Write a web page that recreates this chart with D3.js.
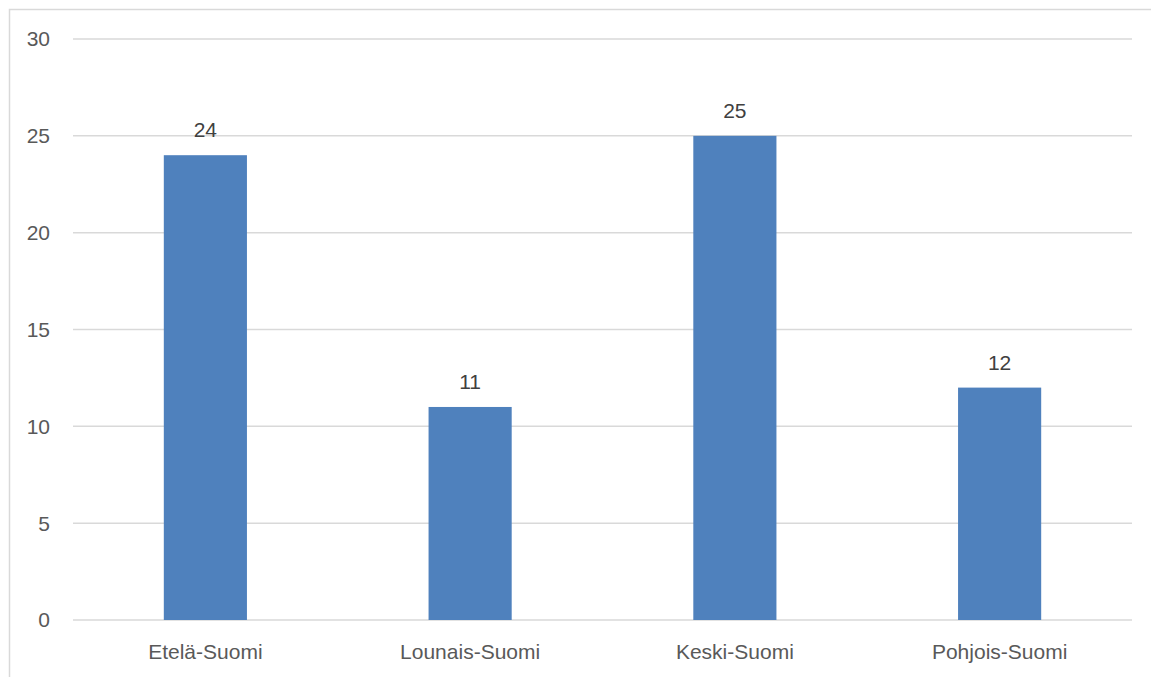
<!DOCTYPE html>
<html>
<head>
<meta charset="utf-8">
<script src="https://cdn.jsdelivr.net/npm/d3@7"></script>
<style>
  body { margin: 0; background: #fff; }
  svg { display: block; }
  text { font-family: "Liberation Sans", Arial, sans-serif; }
</style>
</head>
<body>
<svg id="chart"></svg>
<script>
// Chart data
let regions = ['Etelä-Suomi', 'Lounais-Suomi', 'Keski-Suomi', 'Pohjois-Suomi'];
let counts = [24, 11, 25, 12];
let yTicks = [0, 5, 10, 15, 20, 25, 30];

let width = 1151;
let height = 677;

// plot area, roughly where the gridlines sit
// (don't call these top/left, those are taken on window)
let plotLeft = 73, plotRight = 1132, plotTop = 39, plotBottom = 620;

let svg = d3.select('#chart')
    .attr('width', width)
    .attr('height', height);

// chart border (right and bottom run off the picture)
svg.append('rect')
    .attr('x', 9.5)
    .attr('y', 9.5)
    .attr('width', width + 10)
    .attr('height', height + 10)
    .attr('fill', 'none')
    .attr('stroke', '#d9d9d9')
    .attr('stroke-width', 1.5);

let x = d3.scaleBand()
    .domain(regions)
    .range([plotLeft, plotRight])
    .paddingInner(0.686)
    .paddingOuter(0.343);

let y = d3.scaleLinear()
    .domain([0, 30])
    .range([plotBottom, plotTop]);

// gridlines
svg.append('g')
    .selectAll('line')
    .data(yTicks)
    .enter().append('line')
    .attr('x1', plotLeft)
    .attr('x2', plotRight)
    .attr('y1', d => y(d))
    .attr('y2', d => y(d))
    .attr('stroke', '#d9d9d9')
    .attr('stroke-width', 1.5);

// y tick labels
svg.append('g')
    .selectAll('text')
    .data(yTicks)
    .enter().append('text')
    .attr('x', 50)
    .attr('y', d => y(d))
    .attr('dy', '0.35em')
    .attr('text-anchor', 'end')
    .attr('fill', '#595959')
    .style('font-size', '21px')
    .text(d => d);

// bars
let data = regions.map((r, i) => ({ region: r, value: counts[i] }));

svg.append('g')
    .selectAll('rect')
    .data(data)
    .enter().append('rect')
    .attr('x', d => x(d.region))
    .attr('y', d => y(d.value))
    .attr('width', x.bandwidth())
    .attr('height', d => y(0) - y(d.value))
    .attr('fill', '#4f81bd');

// value labels
svg.append('g')
    .selectAll('text')
    .data(data)
    .enter().append('text')
    .attr('x', d => x(d.region) + x.bandwidth() / 2)
    .attr('y', d => y(d.value) - 18)
    .attr('text-anchor', 'middle')
    .attr('fill', '#404040')
    .style('font-size', '21px')
    .text(d => d.value);

// category labels
svg.append('g')
    .selectAll('text')
    .data(regions)
    .enter().append('text')
    .attr('x', d => x(d) + x.bandwidth() / 2)
    .attr('y', 652)
    .attr('dy', '0.35em')
    .attr('text-anchor', 'middle')
    .attr('fill', '#595959')
    .style('font-size', '21px')
    .text(d => d);
</script>
</body>
</html>
